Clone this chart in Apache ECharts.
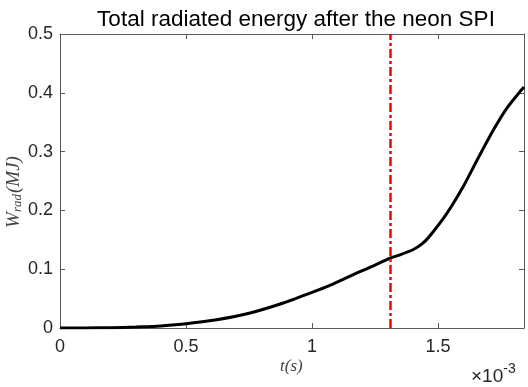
<!DOCTYPE html>
<html>
<head>
<meta charset="utf-8">
<script src="https://cdn.jsdelivr.net/npm/echarts@6/dist/echarts.min.js"></script>
<style>
  html, body { margin: 0; padding: 0; background: #fff; }
  #chart { width: 528px; height: 387px; }
</style>
</head>
<body>
<div id="chart"></div>
<script>
// Time samples, in units of 1e-3 s
const timeMs = [0, 0.1, 0.2, 0.3, 0.357, 0.4, 0.5, 0.622, 0.754, 0.886, 1.0, 1.071, 1.183, 1.25, 1.31,
                1.349, 1.402, 1.435, 1.468, 1.535, 1.6, 1.653, 1.72, 1.773, 1.825, 1.841];
// Total radiated energy W_rad (MJ)
const energyMJ = [0, 0.0001, 0.0005, 0.0015, 0.0025, 0.0035, 0.0073, 0.014, 0.0255, 0.0425, 0.0605, 0.0725, 0.0945, 0.107, 0.119,
                  0.1245, 0.1335, 0.1425, 0.157, 0.195, 0.2406, 0.284, 0.337, 0.374, 0.402, 0.41];
// SPI marker time (1e-3 s)
const spiTime = 1.31;
const xTicks = [0, 0.5, 1, 1.5];
const yTicks = [0, 0.1, 0.2, 0.3, 0.4, 0.5];

const axisGray = '#5a5a5a';
const textColor = '#262626';
const sans = 'Liberation Sans, Arial, Helvetica, sans-serif';
const serif = 'Liberation Serif, DejaVu Serif, Times New Roman, serif';

const chart = echarts.init(document.getElementById('chart'), null, { renderer: 'canvas' });

const baseX = {
  type: 'value', min: 0, max: 1.841, interval: 0.5,
  axisLine: { show: true, onZero: false, lineStyle: { color: axisGray, width: 1 } },
  axisTick: { show: true, inside: true, length: 5, lineStyle: { color: axisGray } },
  splitLine: { show: false }
};
const baseY = {
  type: 'value', min: 0, max: 0.5, interval: 0.1,
  axisLine: { show: true, onZero: false, lineStyle: { color: axisGray, width: 1 } },
  axisTick: { show: true, inside: true, length: 5, lineStyle: { color: axisGray } },
  splitLine: { show: false }
};

chart.setOption({
  animation: false,
  backgroundColor: '#fff',
  title: {
    text: 'Total radiated energy after the neon SPI',
    left: 291, top: 3, textAlign: 'center',
    textStyle: { fontFamily: sans, fontSize: 22.5, fontWeight: 'normal', color: '#000' }
  },
  grid: { left: 60, right: 4, top: 34, bottom: 59 },
  xAxis: [
    Object.assign({}, baseX, {
      position: 'bottom',
      axisLabel: {
        margin: 10, fontFamily: sans, fontSize: 18, color: textColor,
        formatter: v => (xTicks.indexOf(v) >= 0 ? String(v) : '')
      }
    }),
    Object.assign({}, baseX, { position: 'top', axisLabel: { show: false } })
  ],
  yAxis: [
    Object.assign({}, baseY, {
      position: 'left',
      axisLabel: {
        margin: 7, fontFamily: sans, fontSize: 18, color: textColor,
        formatter: v => (yTicks.indexOf(+v.toFixed(1)) >= 0 ? String(+v.toFixed(1)) : '')
      }
    }),
    Object.assign({}, baseY, { position: 'right', axisLabel: { show: false } })
  ],
  series: [
    {
      type: 'line',
      data: timeMs.map((t, i) => [t, energyMJ[i]]),
      smooth: 0.2,
      showSymbol: false,
      lineStyle: { color: '#000', width: 3 },
      z: 3,
      markLine: {
        silent: true,
        symbol: ['none', 'none'],
        label: { show: false },
        lineStyle: { color: '#ff0000', width: 2.5, type: [9, 3, 3, 3] },
        data: [{ xAxis: spiTime }]
      }
    }
  ],
  graphic: [
    {
      type: 'text', left: 280, top: 358,
      style: { text: 't(s)', font: 'italic 17px ' + serif, fill: '#444' }
    },
    {
      type: 'text', left: 471, top: 362,
      style: {
        text: '{b|×10}{s|-3}',
        rich: {
          b: { fontFamily: sans, fontSize: 19, fill: textColor, verticalAlign: 'bottom' },
          s: { fontFamily: sans, fontSize: 14, fill: textColor, verticalAlign: 'top', padding: [0, 0, 10, 0] }
        }
      }
    },
    {
      type: 'text', x: 14, y: 192, rotation: Math.PI / 2,
      style: {
        text: '{w|W}{r|rad}{w|(MJ)}',
        align: 'center', verticalAlign: 'middle',
        rich: {
          w: { fontFamily: serif, fontStyle: 'italic', fontSize: 19, fill: '#444' },
          r: { fontFamily: serif, fontStyle: 'italic', fontSize: 13, fill: '#444', padding: [8, 1, 0, 0] }
        }
      }
    }
  ]
});
</script>
</body>
</html>
